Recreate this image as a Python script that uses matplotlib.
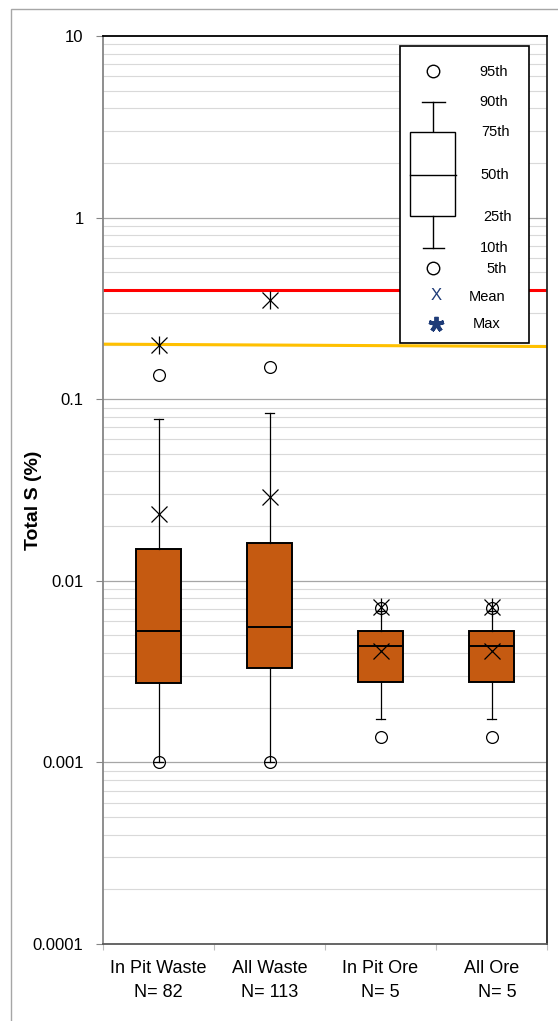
import matplotlib
matplotlib.use("Agg")
import matplotlib.pyplot as plt
from matplotlib.patches import Rectangle
from matplotlib.ticker import FixedLocator, FixedFormatter, NullFormatter
import numpy as np

plt.rcParams['font.family'] = ['Liberation Sans', 'DejaVu Sans']

# ---- data ----
categories = ["In Pit Waste", "All Waste", "In Pit Ore", "All Ore"]
n_samples = [82, 113, 5, 5]
p5 = [0.001, 0.001, 0.00138, 0.00138]
p10 = [0.001, 0.001, 0.00173, 0.00173]
p25 = [0.00274, 0.00331, 0.00277, 0.00277]
p50 = [0.0053, 0.00557, 0.00437, 0.00437]
p75 = [0.015, 0.0161, 0.0053, 0.0053]
p90 = [0.0778, 0.0839, 0.0068, 0.0068]
p95 = [0.136, 0.150, 0.00708, 0.00708]
means = [0.0233, 0.0289, 0.00411, 0.00411]
maxima = [0.2, 0.351, 0.0072, 0.0072]
red_line = [0.4, 0.4]
orange_line = [0.201, 0.195]
y_ticks = [0.0001, 0.001, 0.01, 0.1, 1, 10]
y_tick_labels = ["0.0001", "0.001", "0.01", "0.1", "1", "10"]
legend_labels = ["95th", "90th", "75th", "50th", "25th", "10th", "5th", "Mean", "Max"]

W, H = 558, 1021
fig = plt.figure(figsize=(W / 100, H / 100), dpi=100)

# outer chart border
fig.add_artist(Rectangle((11 / W, -0.1), 2, 1 - 9 / H + 0.1, transform=fig.transFigure,
                         fill=False, edgecolor='#a6a6a6', linewidth=1.0))

L, R, T, B = 103, 547, 36, 944
ax = fig.add_axes([L / W, 1 - B / H, (R - L) / W, (B - T) / H])
ax.set_yscale('log')
ax.set_ylim(1e-4, 10)
ax.set_xlim(0.5, 4.5)

# gridlines
for dec in range(-4, 1):
    for m in range(2, 10):
        ax.axhline(m * 10.0 ** dec, color='#d9d9d9', lw=0.8, zorder=0)
for v in y_ticks[1:-1]:
    ax.axhline(v, color='#a6a6a6', lw=0.9, zorder=0)

pos = np.arange(1, len(categories) + 1)
stats = []
for i in range(len(categories)):
    stats.append(dict(whislo=p10[i], q1=p25[i], med=p50[i], q3=p75[i], whishi=p90[i],
                      fliers=[], label=categories[i]))
ax.bxp(stats, positions=pos, widths=0.4, capwidths=0.08, patch_artist=True, showfliers=False,
       boxprops=dict(facecolor='#c55a11', edgecolor='black', linewidth=1.4),
       medianprops=dict(color='black', linewidth=1.4),
       whiskerprops=dict(color='black', linewidth=0.9),
       capprops=dict(color='black', linewidth=0.9), zorder=3)

ax.plot(pos, p5, 'o', mfc='none', mec='black', ms=8.5, mew=0.9, zorder=4)
ax.plot(pos, p95, 'o', mfc='none', mec='black', ms=8.5, mew=0.9, zorder=4)
ax.plot(pos, means, 'x', color='black', ms=11, mew=0.9, zorder=5)
ax.plot(pos, maxima, 'x', color='black', ms=11, mew=0.9, zorder=5)
ax.plot(pos, maxima, '|', color='black', ms=13, mew=0.9, zorder=5)

ax.plot([0.5, 4.5], red_line, color='#ff0000', lw=2.2, zorder=2)
ax.plot([0.5, 4.5], orange_line, color='#ffc000', lw=2.2, zorder=2)

# axes styling
ax.yaxis.set_major_locator(FixedLocator(y_ticks))
ax.yaxis.set_major_formatter(FixedFormatter(y_tick_labels))
ax.yaxis.set_minor_formatter(NullFormatter())
ax.tick_params(axis='y', which='major', length=5, width=0.8, color='#868686', labelsize=12, pad=9)
ax.tick_params(axis='y', which='minor', length=0)
ax.set_xticks([0.5, 1.5, 2.5, 3.5, 4.5])
ax.set_xticklabels([])
ax.tick_params(axis='x', length=4, width=0.8, color='#bfbfbf')
ax.spines['left'].set_color('#868686')
ax.spines['bottom'].set_color('#595959')
ax.spines['top'].set_color('black')
ax.spines['right'].set_color('#262626')
for s in ax.spines.values():
    s.set_linewidth(1.3)

for i, c in enumerate(categories):
    ax.text(pos[i], -0.018, c, transform=ax.get_xaxis_transform(), ha='center', va='top', fontsize=13)
    ax.text(pos[i] + (0.05 if i == 3 else 0), -0.044, "N= %d" % n_samples[i],
            transform=ax.get_xaxis_transform(), ha='center', va='top', fontsize=13)

fig.text(33 / W, 1 - 500 / H, "Total S (%)", rotation=90, ha='center', va='center',
         fontsize=14, fontweight='bold')

# ---- custom legend ----
def fx(px):
    return (px - L) / (R - L)

def fy(py):
    return (B - py) / (B - T)

tr = ax.transAxes
ax.add_patch(Rectangle((fx(400), fy(343)), fx(529) - fx(400), fy(46) - fy(343), transform=tr,
                       facecolor='white', edgecolor='black', linewidth=1.2, zorder=10))
lz = 11
ax.plot([fx(433)], [fy(71)], 'o', mfc='none', mec='black', ms=9, mew=1.0, transform=tr, zorder=lz)
ax.plot([fx(433)], [fy(268)], 'o', mfc='none', mec='black', ms=9, mew=1.0, transform=tr, zorder=lz)
ax.plot([fx(422), fx(445)], [fy(102), fy(102)], color='black', lw=1.0, transform=tr, zorder=lz)
ax.plot([fx(433), fx(433)], [fy(102), fy(132)], color='black', lw=1.0, transform=tr, zorder=lz)
ax.add_patch(Rectangle((fx(410), fy(216)), fx(455) - fx(410), fy(132) - fy(216), transform=tr,
                       facecolor='white', edgecolor='black', linewidth=1.0, zorder=lz))
ax.plot([fx(410), fx(456)], [fy(175), fy(175)], color='black', lw=1.0, transform=tr, zorder=lz + 1)
ax.plot([fx(433), fx(433)], [fy(216), fy(248)], color='black', lw=1.0, transform=tr, zorder=lz)
ax.plot([fx(423), fx(444)], [fy(248), fy(248)], color='black', lw=1.0, transform=tr, zorder=lz)
ax.text(fx(436), fy(296), "X", color='#1f3c78', fontsize=12, ha='center', va='center', transform=tr, zorder=lz)
ax.plot([fx(436)], [fy(324)], marker=(5, 2, 0), color='#1f3c78', ms=11, mew=2.8, transform=tr, zorder=lz)
leg_y = [72, 102, 132, 175, 217, 248, 269, 297, 324]
leg_x = [494, 494, 495, 495, 498, 494, 497, 487, 487]
for lab, lx, ly in zip(legend_labels, leg_x, leg_y):
    ax.text(fx(lx), fy(ly), lab, fontsize=10.5, ha='center', va='center', transform=tr, zorder=lz)

fig.savefig("out.png", dpi=100)
